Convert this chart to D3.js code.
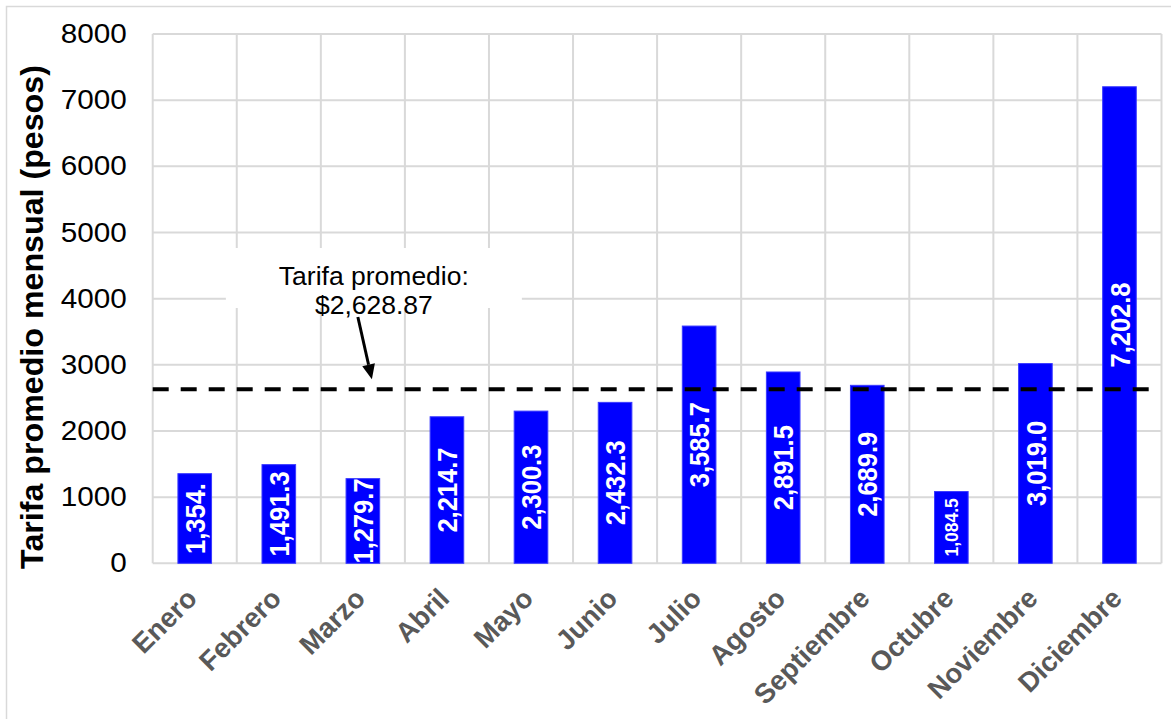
<!DOCTYPE html>
<html lang="es">
<head>
<meta charset="utf-8">
<title>Tarifa promedio mensual</title>
<script src="https://cdn.jsdelivr.net/npm/d3@7"></script>
<style>
  html, body { margin: 0; padding: 0; background: #fff; }
  svg { display: block; font-family: "Liberation Sans", Arial, sans-serif; }
</style>
</head>
<body>
<svg id="chart" width="1171" height="719"></svg>
<script>
// Monthly average tariff (pesos)
const categories = ["Enero", "Febrero", "Marzo", "Abril", "Mayo", "Junio",
  "Julio", "Agosto", "Septiembre", "Octubre", "Noviembre", "Diciembre"];
const values = [1354.7, 1491.3, 1279.7, 2214.7, 2300.3, 2432.3,
  3585.7, 2891.5, 2689.9, 1084.5, 3019.0, 7202.8];
const barLabels = ["1,354.", "1,491.3", "1,279.7", "2,214.7", "2,300.3", "2,432.3",
  "3,585.7", "2,891.5", "2,689.9", "1,084.5", "3,019.0", "7,202.8"];
const yTicks = [0, 1000, 2000, 3000, 4000, 5000, 6000, 7000, 8000];
const averageValue = 2628.87;
const averageNote = ["Tarifa promedio:", "$2,628.87"];
const yTitle = "Tarifa promedio mensual (pesos)";

const svg = d3.select("#chart");
const plot = { left: 152.7, right: 1161.5, top: 34, bottom: 563.3 };
const widen = 1.1; // horizontal text stretch used by the axis and bar labels

const x = d3.scaleBand()
  .domain(categories)
  .range([plot.left, plot.right])
  .paddingInner(0.6)
  .paddingOuter(0.3);

const y = d3.scaleLinear()
  .domain([0, 8000])
  .range([plot.bottom, plot.top]);

const step = x.step();

// outer chart frame
svg.append("rect")
  .attr("x", 6.5).attr("y", 6.5)
  .attr("width", 1200).attr("height", 740)
  .attr("fill", "none").attr("stroke", "#d9d9d9").attr("stroke-width", 1.5);

// gridlines
const grid = svg.append("g").attr("stroke", "#d9d9d9").attr("stroke-width", 2);
grid.selectAll("line.h").data(yTicks).join("line")
  .attr("class", "h")
  .attr("x1", plot.left).attr("x2", plot.right)
  .attr("y1", d => y(d)).attr("y2", d => y(d));
grid.selectAll("line.v").data(categories.concat([null])).join("line")
  .attr("class", "v")
  .attr("x1", (d, i) => plot.left + i * step)
  .attr("x2", (d, i) => plot.left + i * step)
  .attr("y1", plot.top).attr("y2", plot.bottom);

// y axis
const yAxis = svg.append("g")
  .attr("transform", `translate(${plot.left - 26},0)`)
  .call(d3.axisLeft(y).tickValues(yTicks).tickSize(0).tickPadding(0).tickFormat(d3.format("d")));
yAxis.select(".domain").remove();
yAxis.selectAll(".tick text")
  .attr("x", null)
  .attr("transform", `scale(${widen},1)`)
  .attr("font-size", 27)
  .attr("fill", "#000")
  .attr("font-family", "Liberation Sans, Arial, sans-serif");

// y title
svg.append("text")
  .attr("transform", `translate(43,317) rotate(-90)`)
  .attr("text-anchor", "middle")
  .attr("font-size", 32.2)
  .attr("font-weight", "bold")
  .attr("fill", "#000")
  .text(yTitle);

// x labels
svg.append("g").selectAll("text").data(categories).join("text")
  .attr("transform", d => `translate(${x(d) + x.bandwidth() / 2 + 4},600) rotate(-45)`)
  .attr("text-anchor", "end")
  .attr("font-size", 27.5)
  .attr("font-weight", "bold")
  .attr("fill", "#595959")
  .text(d => d);

// bars
const defs = svg.append("defs");
defs.selectAll("clipPath").data(categories).join("clipPath")
  .attr("id", (d, i) => "bar-clip-" + i)
  .append("rect")
  .attr("x", d => x(d))
  .attr("width", x.bandwidth())
  .attr("y", (d, i) => y(values[i]))
  .attr("height", (d, i) => y(0) - y(values[i]));

svg.append("g").selectAll("rect").data(categories).join("rect")
  .attr("x", d => x(d))
  .attr("width", x.bandwidth())
  .attr("y", (d, i) => y(values[i]))
  .attr("height", (d, i) => y(0) - y(values[i]))
  .attr("fill", "#0000ff")
  .attr("stroke", "#3a3aff")
  .attr("stroke-width", 1);

// value labels inside bars, clipped to each bar
svg.append("g").selectAll("g").data(categories).join("g")
  .attr("clip-path", (d, i) => `url(#bar-clip-${i})`)
  .append("text")
  .attr("transform", (d, i) => {
    const cx = x(d) + x.bandwidth() / 2;
    const cy = (y(values[i]) + y(0)) / 2;
    return `translate(${cx},${cy}) scale(${widen},1) rotate(-90)`;
  })
  .attr("text-anchor", "middle")
  .attr("dy", "0.36em")
  .attr("font-size", (d, i) => (y(0) - y(values[i]) < 80 ? 17.5 : 25.5))
  .attr("font-weight", "bold")
  .attr("fill", "#fff")
  .text((d, i) => barLabels[i]);

// average line
svg.append("line")
  .attr("x1", plot.left).attr("x2", plot.right - 12)
  .attr("y1", y(averageValue)).attr("y2", y(averageValue))
  .attr("stroke", "#000")
  .attr("stroke-width", 4)
  .attr("stroke-dasharray", "16,12");

// annotation
const noteX = x("Marzo") + x.bandwidth() / 2 + 11;
const note = svg.append("g");
note.append("rect")
  .attr("x", noteX - 148).attr("y", 248)
  .attr("width", 296).attr("height", 60)
  .attr("fill", "#fff");
note.selectAll("text").data(averageNote).join("text")
  .attr("x", noteX)
  .attr("y", (d, i) => 285 + i * 29)
  .attr("text-anchor", "middle")
  .attr("font-size", 26.5)
  .attr("fill", "#000")
  .text(d => d);

// arrow pointing at the average line
const tipX = x("Marzo") + x.bandwidth() / 2 + 9;
const tipY = y(averageValue) - 10;
const startX = tipX - 14, startY = 317;
const ang = Math.atan2(tipY - startY, tipX - startX);
const headLen = 15, headHalf = 6.5;
const bx = tipX - headLen * Math.cos(ang), by = tipY - headLen * Math.sin(ang);
note.append("line")
  .attr("x1", startX).attr("y1", startY)
  .attr("x2", bx).attr("y2", by)
  .attr("stroke", "#000").attr("stroke-width", 3);
note.append("path")
  .attr("d", d3.line()([
    [tipX, tipY],
    [bx + headHalf * Math.sin(ang), by - headHalf * Math.cos(ang)],
    [bx - headHalf * Math.sin(ang), by + headHalf * Math.cos(ang)]
  ]) + "Z")
  .attr("fill", "#000");
</script>
</body>
</html>
